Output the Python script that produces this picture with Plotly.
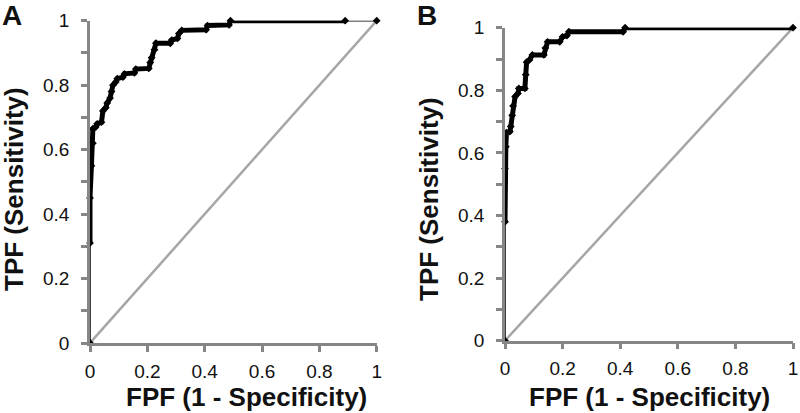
import plotly.graph_objects as go

W, H = 800, 413

# ROC curve A (FPF, TPF)
fpf_a = [0.0, 0.0, 0.0, 0.005, 0.01, 0.01, 0.02, 0.025, 0.04, 0.045, 0.055, 0.06, 0.07,
         0.075, 0.08, 0.09, 0.095, 0.115, 0.12, 0.155, 0.16, 0.205, 0.21, 0.215, 0.225,
         0.23, 0.28, 0.285, 0.305, 0.31, 0.32, 0.405, 0.41, 0.485, 0.49, 0.89, 1.0]
tpf_a = [0.0, 0.31, 0.45, 0.55, 0.62, 0.665, 0.67, 0.68, 0.685, 0.72, 0.73, 0.745, 0.76,
         0.78, 0.80, 0.81, 0.82, 0.825, 0.835, 0.838, 0.85, 0.852, 0.87, 0.885, 0.91,
         0.93, 0.93, 0.94, 0.945, 0.96, 0.97, 0.972, 0.985, 0.987, 1.0, 1.0, 1.0]
dense_a = (1, 36)  # index range of densely marked thresholds

# ROC curve B
fpf_b = [0.0, 0.0, 0.0, 0.003, 0.005, 0.017, 0.02, 0.025, 0.028, 0.035, 0.045, 0.048,
         0.069, 0.072, 0.075, 0.085, 0.095, 0.135, 0.14, 0.148, 0.19, 0.2, 0.215, 0.222,
         0.41, 0.417, 1.0]
tpf_b = [0.0, 0.38, 0.55, 0.62, 0.665, 0.668, 0.684, 0.72, 0.75, 0.78, 0.79, 0.806,
         0.806, 0.85, 0.89, 0.897, 0.913, 0.913, 0.935, 0.955, 0.955, 0.971, 0.975, 0.987,
         0.987, 1.0, 1.0]
dense_b = (1, 27)

chance = [0, 1]
x_ticks = [0, 0.2, 0.4, 0.6, 0.8, 1]
x_labels = ["0", "0.2", "0.4", "0.6", "0.8", "1"]
y_ticks = [0, 0.1, 0.2, 0.3, 0.4, 0.5, 0.6, 0.7, 0.8, 0.9, 1]
y_labels = ["0", "", "0.2", "", "0.4", "", "0.6", "", "0.8", "", "1"]

x_title = "FPF (1 - Specificity)"
y_title = "TPF (Sensitivity)"
panel_labels = ["A", "B"]

FONT = "Liberation Sans, Arial, sans-serif"
AXC = "#868686"
DIAG = "#a6a6a6"

fig = go.Figure()

for i, (fx, ty, dense) in enumerate([(fpf_a, tpf_a, dense_a), (fpf_b, tpf_b, dense_b)]):
    xa = "x" if i == 0 else "x2"
    ya = "y" if i == 0 else "y2"
    fig.add_trace(go.Scatter(x=chance, y=chance, mode="lines", xaxis=xa, yaxis=ya,
                             line=dict(color=DIAG, width=2.5), hoverinfo="skip",
                             showlegend=False, cliponaxis=False))
    s, e = dense
    fig.add_trace(go.Scatter(x=fx[s:e], y=ty[s:e], mode="lines", xaxis=xa, yaxis=ya,
                             line=dict(color="black", width=5), showlegend=False,
                             cliponaxis=False))
    fig.add_trace(go.Scatter(x=fx, y=ty, mode="lines+markers", xaxis=xa, yaxis=ya,
                             line=dict(color="black", width=1.5),
                             marker=dict(symbol="diamond", size=6, color="black"),
                             showlegend=False, cliponaxis=False))

def xaxis(domain, anchor):
    return dict(domain=domain, anchor=anchor, range=[0, 1], showgrid=False, zeroline=False,
                showline=True, linecolor=AXC, linewidth=2.5, ticks="outside", ticklen=6,
                tickwidth=2.5, tickcolor=AXC, tickvals=x_ticks, ticktext=x_labels,
                tickfont=dict(family=FONT, size=19, color="#111111"), ticklabelstandoff=3,
                ticklabeloverflow="allow", automargin=False)

def yaxis(domain, anchor):
    return dict(domain=domain, anchor=anchor, range=[0, 1], showgrid=False, zeroline=False,
                showline=True, linecolor=AXC, linewidth=2.5, ticks="outside", ticklen=6,
                tickwidth=2.5, tickcolor=AXC, tickvals=y_ticks, ticktext=y_labels,
                tickfont=dict(family=FONT, size=19, color="#111111"), ticklabelstandoff=8,
                ticklabeloverflow="allow", automargin=False)

def px(X):
    return X / W

def py(Y):
    return (H - Y) / H

fig.update_layout(
    width=W, height=H, margin=dict(l=0, r=0, t=0, b=0, pad=0),
    paper_bgcolor="white", plot_bgcolor="white",
    xaxis=xaxis([px(90), px(376.7)], "y"),
    yaxis=yaxis([py(343), py(20.7)], "x"),
    xaxis2=xaxis([px(505), px(793)], "y2"),
    yaxis2=yaxis([py(340.7), py(27.7)], "x2"),
)

ann = []
tf = dict(family=FONT, size=26, color="#111111")
for (cx, cy) in [(246.5, 397), (649, 397)]:
    ann.append(dict(text="<b>%s</b>" % x_title, x=px(cx), y=py(cy), xref="paper", yref="paper",
                    xanchor="center", yanchor="middle", showarrow=False, font=tf))
for (cx, cy) in [(14, 189), (429, 199)]:
    ann.append(dict(text="<b>%s</b>" % y_title, x=px(cx), y=py(cy), xref="paper", yref="paper",
                    xanchor="center", yanchor="middle", showarrow=False, font=tf, textangle=-90))
for lab, (cx, cy) in zip(panel_labels, [(12, 15), (427, 15)]):
    ann.append(dict(text="<b>%s</b>" % lab, x=px(cx), y=py(cy), xref="paper", yref="paper",
                    xanchor="center", yanchor="middle", showarrow=False,
                    font=dict(family=FONT, size=28, color="#111111")))
fig.update_layout(annotations=ann)

fig.write_html("out.html", config={"displayModeBar": False},
               post_script="document.body.style.margin='0';document.body.style.padding='0';"
                           "document.body.style.overflow='hidden';")
